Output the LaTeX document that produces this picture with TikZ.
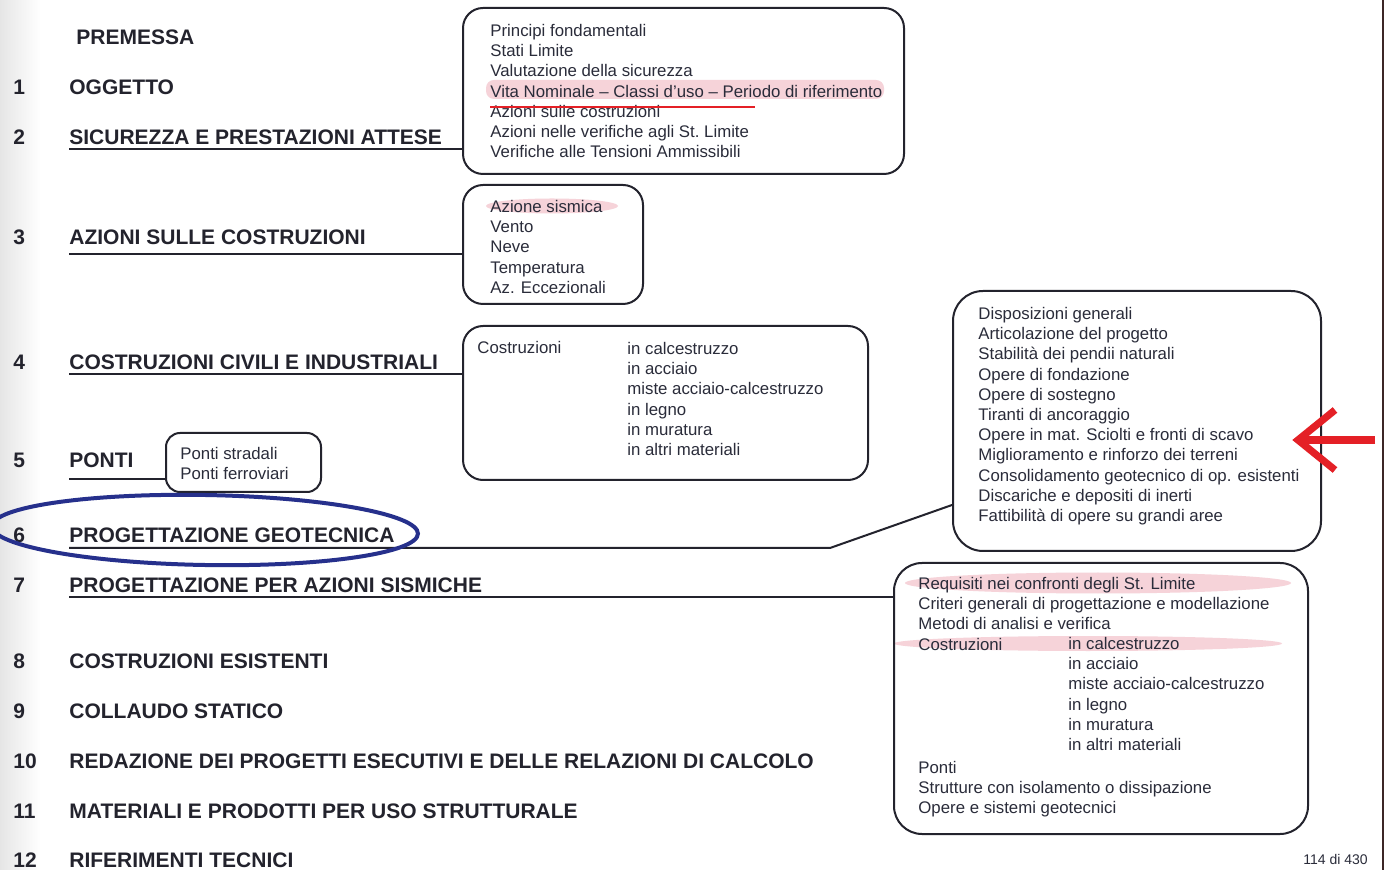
\documentclass[tikz,border=0pt]{standalone}
\usepackage{fontspec}
\setmainfont{Liberation Sans}
\usepackage{xcolor}
\usetikzlibrary{calc,positioning}

\definecolor{inkdark}{RGB}{35,35,45}
\definecolor{inkbox}{RGB}{42,44,58}
\definecolor{hlpink}{RGB}{244,200,208}
\definecolor{ringblue}{RGB}{38,48,140}
\definecolor{markred}{RGB}{228,32,38}
\definecolor{edgebrown}{RGB}{60,38,38}

\begin{document}
\begin{tikzpicture}[
    x=0.5pt, y=-0.5pt,
    head/.style={anchor=base west, inner sep=0pt, font=\fontsize{10.5}{12}\selectfont\bfseries, text=inkdark},
    topic/.style={draw=inkdark, line width=1pt, rounded corners=10pt, anchor=north west, inner sep=0pt},
    items/.style={anchor=north west, inner sep=0pt, align=left, font=\fontsize{8.4}{10.1}\selectfont, text=inkbox},
    item/.style={anchor=west, inner sep=0pt, font=\fontsize{8.4}{10.1}\selectfont, text=inkbox},
    link/.style={draw=inkdark, line width=1pt},
    hl/.style={fill=hlpink, fill opacity=0.8}
  ]
    \useasboundingbox (0,0) rectangle (1385,870);
    \fill[white] (0,0) rectangle (1385,870);
    \shade[left color=black!10, right color=white] (0,0) rectangle (40,870);

    % highlights
    \fill[hl, rounded corners=4pt] (486,80) rectangle (884,99);
    \fill[hl] (552,206) ellipse [x radius=33pt, y radius=3.75pt];
    \fill[hl] (1098,583) ellipse [x radius=96.5pt, y radius=5.25pt];
    \fill[hl] (1088,643.5) ellipse [x radius=97pt, y radius=3.75pt];

    % chapters
    \node[head] (h0) at (76,45) {PREMESSA};
    \node[head] (n1) at (13,95) {1};
    \node[head] (h1) at (69,95) {OGGETTO};
    \node[head] (n2) at (13,145) {2};
    \node[head] (h2) at (69,145) {SICUREZZA E PRESTAZIONI ATTESE};
    \node[head] (n3) at (13,245) {3};
    \node[head] (h3) at (69,245) {AZIONI SULLE COSTRUZIONI};
    \node[head] (n4) at (13,370) {4};
    \node[head] (h4) at (69,370) {COSTRUZIONI CIVILI E INDUSTRIALI};
    \node[head] (n5) at (13,468) {5};
    \node[head] (h5) at (69,468) {PONTI};
    \node[head] (n6) at (13,543) {6};
    \node[head] (h6) at (69,543) {PROGETTAZIONE GEOTECNICA};
    \node[head] (n7) at (13,593) {7};
    \node[head] (h7) at (69,593) {PROGETTAZIONE PER AZIONI SISMICHE};
    \node[head] (n8) at (13,668) {8};
    \node[head] (h8) at (69,668) {COSTRUZIONI ESISTENTI};
    \node[head] (n9) at (13,718) {9};
    \node[head] (h9) at (69,718) {COLLAUDO STATICO};
    \node[head] (n10) at (13,768) {10};
    \node[head] (h10) at (69,768) {REDAZIONE DEI PROGETTI ESECUTIVI E DELLE RELAZIONI DI CALCOLO};
    \node[head] (n11) at (13,818) {11};
    \node[head] (h11) at (69,818) {MATERIALI E PRODOTTI PER USO STRUTTURALE};
    \node[head] (n12) at (13,867) {12};
    \node[head] (h12) at (69,867) {RIFERIMENTI TECNICI};

    % boxes
    \node[topic, minimum width=220.5pt, minimum height=83pt] (sic) at (462,7) {};
    \node[items] (sictxt) at (490,24) {Principi fondamentali\\Stati Limite\\Valutazione della sicurezza\\Vita Nominale -- Classi d'uso -- Periodo di riferimento\\Azioni sulle costruzioni\\Azioni nelle verifiche agli St.\ Limite\\Verifiche alle Tensioni Ammissibili};
    \draw[markred, line width=0.8pt] (490,107) -- (755,107);

    \node[topic, minimum width=90pt, minimum height=59.5pt] (azi) at (462,184) {};
    \node[items] (azitxt) at (490,200) {Azione sismica\\Vento\\Neve\\Temperatura\\Az. Eccezionali};

    \node[topic, minimum width=202.5pt, minimum height=77pt] (civ) at (462,325) {};
    \node[item] (civcos) at (477,348) {Costruzioni};
    \node[items] (civmat) at (627,342) {in calcestruzzo\\in acciaio\\miste acciaio-calcestruzzo\\in legno\\in muratura\\in altri materiali};

    \node[topic, rounded corners=7pt, minimum width=77.5pt, minimum height=29.5pt] (pon) at (165,432) {};
    \node[items] (pontxt) at (180,447) {Ponti stradali\\Ponti ferroviari};

    \node[topic, rounded corners=15pt, minimum width=184pt, minimum height=130pt] (geo) at (952,290) {};
    \node[items] (geotxt) at (978,307) {Disposizioni generali\\Articolazione del progetto\\Stabilità dei pendii naturali\\Opere di fondazione\\Opere di sostegno\\Tiranti di ancoraggio\\Opere in mat. Sciolti e fronti di scavo\\Miglioramento e rinforzo dei terreni\\Consolidamento geotecnico di op. esistenti\\Discariche e depositi di inerti\\Fattibilità di opere su grandi aree};

    \node[topic, rounded corners=14pt, minimum width=207pt, minimum height=135.5pt] (sis) at (893,562) {};
    \node[items] (sistop) at (918,577) {Requisiti nei confronti degli St. Limite\\Criteri generali di progettazione e modellazione\\Metodi di analisi e verifica\\Costruzioni};
    \node[items] (sismat) at (1068,637) {in calcestruzzo\\in acciaio\\miste acciaio-calcestruzzo\\in legno\\in muratura\\in altri materiali};
    \node[items] (sisend) at (918,761) {Ponti\\Strutture con isolamento o dissipazione\\Opere e sistemi geotecnici};

    % underlines to the boxes
    \coordinate (u2) at ($(h2.base west)+(0,4)$);
    \coordinate (u3) at ($(h3.base west)+(0,9)$);
    \coordinate (u4) at ($(h4.base west)+(0,4)$);
    \coordinate (u5) at ($(h5.base west)+(0,11)$);
    \coordinate (u6) at ($(h6.base west)+(0,5)$);
    \coordinate (u7) at ($(h7.base west)+(0,4)$);
    \coordinate (gbend) at (830,548);
    \coordinate (gin) at ($(geo.south west)+(0,-47)$);
    \draw[link] (u2) -- (u2 -| sic.west);
    \draw[link] (u3) -- (u3 -| azi.west);
    \draw[link] (u4) -- (u4 -| civ.west);
    \draw[link] (u5) -- (u5 -| pon.west);
    \draw[link] (u6) -- (u6 -| gbend) -- (gin);
    \draw[link] (u7) -- (u7 -| sis.west);

    % marks
    \draw[ringblue, line width=2pt, rotate around={-1:(205,530)}] (205,530) ellipse [x radius=106.5pt, y radius=17.5pt];
    \coordinate (arrtip) at (1298,440);
    \coordinate (arrtail) at (1375,440);
    \draw[markred, line width=3.6pt] (arrtail) -- (arrtip);
    \draw[markred, line width=3.6pt, line join=miter] ($(arrtip)+(37,-30)$) -- (arrtip) -- ($(arrtip)+(37,30)$);

    \node[anchor=north west, inner sep=0pt, font=\fontsize{7}{8}\selectfont, text=inkbox] (page) at (1303,854) {114 di 430};
    \draw[edgebrown, line width=1pt] (1383,0) -- (1383,870);
  \end{tikzpicture}
\end{document}
